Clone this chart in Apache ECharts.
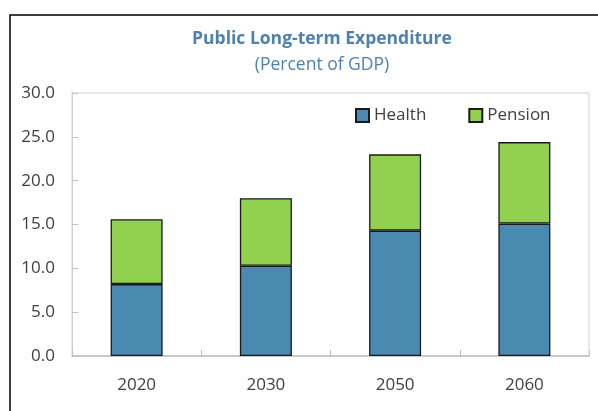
<!DOCTYPE html>
<html>
<head>
<meta charset="utf-8">
<script src="https://cdn.jsdelivr.net/npm/echarts@6/dist/echarts.min.js"></script>
<style>
  html, body { margin: 0; padding: 0; background: #fff; }
  #chart { width: 598px; height: 411px; }
</style>
</head>
<body>
<div id="chart"></div>
<script>
// Public long-term expenditure, percent of GDP
const years = ['2020', '2030', '2050', '2060'];
const health = [8.2, 10.3, 14.3, 15.1];
const pension = [7.4, 7.7, 8.7, 9.3];
const yTicks = [0, 5, 10, 15, 20, 25, 30];

const FONT = '"Open Sans", "Noto Sans", sans-serif';
const chart = echarts.init(document.getElementById('chart'), null, { renderer: 'canvas' });

chart.setOption({
  animation: false,
  backgroundColor: '#ffffff',
  graphic: [
    {
      type: 'rect',
      shape: { x: 10, y: 15, width: 620, height: 420 },
      style: { fill: 'none', stroke: '#000000', lineWidth: 1.5 },
      silent: true,
      z: 0
    }
  ],
  title: {
    text: 'Public Long-term Expenditure',
    subtext: '(Percent of GDP)',
    left: 317,
    textAlign: 'center',
    top: 25,
    itemGap: 8,
    textStyle: { fontFamily: FONT, fontSize: 17.5, fontWeight: 'bold', color: '#4f81b0' },
    subtextStyle: { fontFamily: FONT, fontSize: 17.5, color: '#4f81b0' }
  },
  legend: {
    left: 355,
    top: 107,
    padding: 0,
    itemWidth: 13,
    itemHeight: 13,
    itemGap: 42,
    icon: 'rect',
    textStyle: { fontFamily: FONT, fontSize: 17, color: '#404040', padding: [0, 0, 0, 0] },
    data: ['Health', 'Pension']
  },
  grid: {
    left: 72,
    right: 9,
    top: 93,
    bottom: 55,
    show: true,
    borderColor: '#d0d0d0',
    borderWidth: 1
  },
  xAxis: {
    type: 'category',
    data: years,
    axisLine: { lineStyle: { color: '#bfbfbf', width: 1.5 } },
    axisTick: { show: true, inside: true, length: 6, alignWithLabel: false, lineStyle: { color: '#bfbfbf' } },
    axisLabel: { fontFamily: FONT, fontSize: 17, color: '#404040', margin: 21 },
    splitLine: { show: false }
  },
  yAxis: {
    type: 'value',
    min: yTicks[0],
    max: yTicks[yTicks.length - 1],
    interval: 5,
    axisLine: { show: true, lineStyle: { color: '#d0d0d0' } },
    axisTick: { show: true, inside: true, length: 6, lineStyle: { color: '#bfbfbf' } },
    axisLabel: {
      fontFamily: FONT, fontSize: 17, color: '#404040', margin: 17,
      formatter: v => v.toFixed(1)
    },
    splitLine: { show: false }
  },
  series: [
    {
      name: 'Health',
      type: 'bar',
      stack: 'total',
      data: health,
      barWidth: 52,
      itemStyle: { color: '#4a89b0', borderColor: '#1a1a1a', borderWidth: 1.3 }
    },
    {
      name: 'Pension',
      type: 'bar',
      stack: 'total',
      data: pension,
      barWidth: 52,
      itemStyle: { color: '#92d050', borderColor: '#1a1a1a', borderWidth: 1.3 }
    }
  ]
});
</script>
</body>
</html>
